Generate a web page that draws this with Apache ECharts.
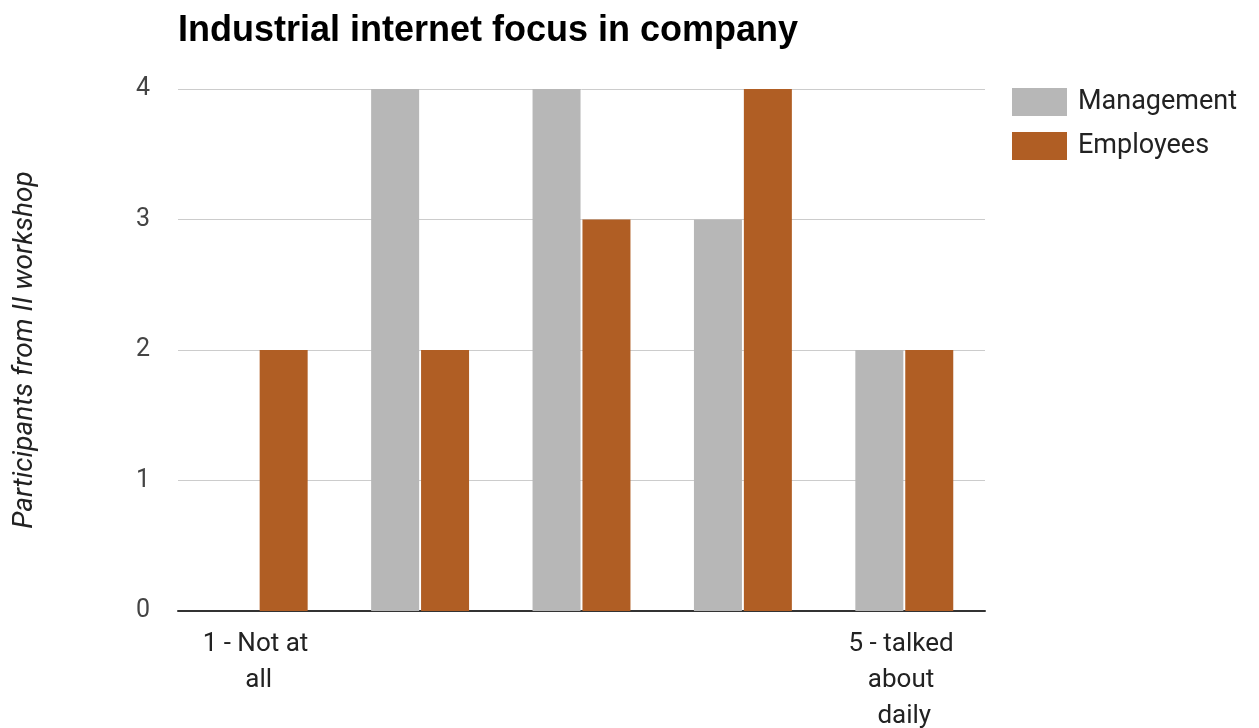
<!DOCTYPE html>
<html>
<head>
<meta charset="utf-8">
<script src="https://cdn.jsdelivr.net/npm/echarts@6/dist/echarts.min.js"></script>
<style>html,body{margin:0;padding:0;background:#fff}#c{width:1259px;height:728px}</style>
</head>
<body>
<div id="c"></div>
<script>
const categories = ['1 - Not at all', '', '', '', '5 - talked about daily'];
const management = [0, 4, 4, 3, 2];
const employees = [2, 2, 3, 4, 2];
const yTicks = [0, 1, 2, 3, 4];

const chart = echarts.init(document.getElementById('c'));
const font = 'Roboto, "Liberation Sans", Arial, sans-serif';
chart.setOption({
  animation: false,
  backgroundColor: '#ffffff',
  title: {
    text: 'Industrial internet focus in company',
    left: 173, top: 8,
    textStyle: { fontFamily: '"Liberation Sans", Arial, sans-serif', fontWeight: 'bold', fontSize: 36, color: '#000' }
  },
  legend: {
    orient: 'vertical', left: 1007, top: 83,
    itemWidth: 55, itemHeight: 28, itemGap: 16,
    icon: 'rect',
    textStyle: { fontFamily: font, fontSize: 27, color: '#222', padding: [0, 0, 0, 6] },
    data: ['Management', 'Employees']
  },
  grid: { left: 178, right: 274, top: 89, bottom: 117, containLabel: false, outerBoundsMode: 'none' },
  xAxis: {
    type: 'category', data: categories,
    axisLine: { lineStyle: { color: '#333', width: 2 } },
    axisTick: { show: false },
    axisLabel: {
      interval: 0, fontFamily: font, fontSize: 26, color: '#222',
      width: 118, overflow: 'break', lineHeight: 36, margin: 15
    }
  },
  yAxis: {
    type: 'value', min: yTicks[0], max: yTicks[yTicks.length - 1], interval: 1,
    name: 'Participants from II workshop',
    nameLocation: 'middle', nameGap: 139, nameRotate: 90,
    nameTextStyle: { fontFamily: font, fontStyle: 'italic', fontSize: 28, color: '#222' },
    axisLine: { show: false }, axisTick: { show: false },
    axisLabel: { fontFamily: font, fontSize: 25, color: '#444', margin: 28 },
    splitLine: { lineStyle: { color: '#cccccc', width: 1 } }
  },
  series: [
    { name: 'Management', type: 'bar', data: management, barWidth: 48, barGap: '4%',
      itemStyle: { color: '#b7b7b7' } },
    { name: 'Employees', type: 'bar', data: employees, barWidth: 48, barGap: '4%',
      itemStyle: { color: '#b05e24' } }
  ]
});
</script>
</body>
</html>
